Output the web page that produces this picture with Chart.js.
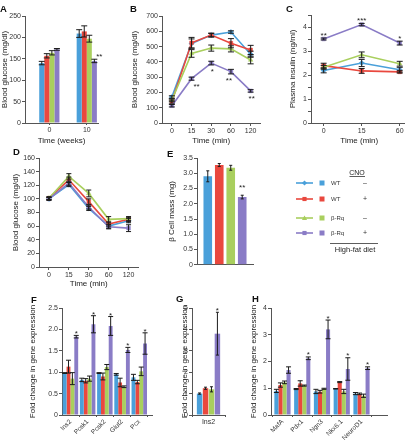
<!DOCTYPE html>
<html><head><meta charset="utf-8">
<script src="https://cdn.jsdelivr.net/npm/chart.js@4"></script>
<style>
html,body{margin:0;padding:0;background:#fff;}
body{width:405px;height:447px;position:relative;overflow:hidden;font-family:"Liberation Sans",Arial,sans-serif;}
canvas{position:absolute;}
svg{position:absolute;left:0;top:0;pointer-events:none;}
</style></head><body>
<canvas id="cA"></canvas><canvas id="cB"></canvas><canvas id="cC"></canvas>
<canvas id="cD"></canvas><canvas id="cE"></canvas>
<canvas id="cF"></canvas><canvas id="cG"></canvas><canvas id="cH"></canvas>
<svg width="405" height="447" viewBox="0 0 405 447" font-family="Liberation Sans, Arial, sans-serif">
  <g font-weight="bold" font-size="9.5" fill="#111">
    <text x="0" y="12">A</text><text x="130" y="12">B</text><text x="286" y="12">C</text>
    <text x="13" y="155">D</text><text x="167" y="157">E</text>
    <text x="31" y="303">F</text><text x="176" y="302">G</text><text x="252" y="302">H</text>
  </g>
  <g id="legend"></g>
</svg>
<script>
// ---------- data ----------
const seriesNames = ['WT', 'WT', 'β-Rq', 'β-Rq'];
const cnoSigns = ['–', '+', '–', '+'];

// A: blood glucose over weeks of high-fat diet
const aWeeks = [0, 10];
const aWTminus = [140, 209], aWTminusErr = [4, 9];
const aWTplus = [157, 214], aWTplusErr = [5, 13];
const aRqMinus = [164, 197], aRqMinusErr = [5, 8];
const aRqPlus = [172, 145], aRqPlusErr = [2, 4];
const aStars = ['', '**'];

// B: glucose tolerance
const bTime = ['0', '15', '30', '60', '120'];
const bWTminus = [170, 520, 575, 595, 450], bWTminusErr = [8, 30, 12, 8, 20];
const bWTplus = [140, 525, 575, 522, 478], bWTplusErr = [10, 35, 12, 30, 30];
const bRqMinus = [150, 455, 490, 485, 412], bRqMinusErr = [8, 25, 20, 20, 25];
const bRqPlus = [113, 290, 392, 336, 210], bRqPlusErr = [8, 10, 12, 15, 8];
const bStars = ['', '**', '*', '**', '**'];

// C: plasma insulin
const cTime = ['0', '15', '60'];
const cWTminus = [2.19, 2.5, 2.22], cWTminusErr = [0.1, 0.15, 0.1];
const cWTplus = [2.39, 2.17, 2.13], cWTplusErr = [0.1, 0.1, 0.05];
const cRqMinus = [2.32, 2.84, 2.47], cRqMinusErr = [0.08, 0.12, 0.1];
const cRqPlus = [3.5, 4.1, 3.33], cRqPlusErr = [0.04, 0.05, 0.08];
const cStars = ['**', '***', '*'];

// D: insulin tolerance
const dTime = ['0', '15', '30', '60', '120'];
const dWTminus = [100, 121, 86, 60, 68], dWTminusErr = [2, 3, 3, 3, 3];
const dWTplus = [101, 128, 96, 63, 70], dWTplusErr = [2, 4, 4, 3, 3];
const dRqMinus = [101, 133, 108, 70, 71], dRqMinusErr = [2, 4, 5, 4, 3];
const dRqPlus = [100, 123, 88, 59, 57], dRqPlusErr = [2, 3, 3, 3, 5];

// E: beta cell mass
const eCat = [''];
const eValues = [2.9, 3.27, 3.18, 2.22];
const eErrors = [0.18, 0.05, 0.08, 0.06];
const eStars = ['', '', '', '**'];

// F: gene expression
const fGenes = ['Ins2', 'Pcsk1', 'Pcsk2', 'Glut2', 'Pcx'];
const fWTminus = [0.98, 0.82, 0.98, 0.95, 0.88], fWTminusErr = [0.01, 0.04, 0.01, 0.02, 0.07];
const fWTplus = [1.13, 0.80, 0.90, 0.76, 0.77], fWTplusErr = [0.15, 0.05, 0.08, 0.1, 0.04];
const fRqMinus = [0.85, 0.85, 1.12, 0.66, 1.02], fRqMinusErr = [0.14, 0.06, 0.06, 0.02, 0.1];
const fRqPlus = [1.83, 2.12, 2.08, 1.52, 1.67], fRqPlusErr = [0.03, 0.2, 0.22, 0.06, 0.25];
const fStars = ['*', '*', '*', '*', '*'];

// G
const gGenes = ['Ins2'];
const gValues = [1.0, 1.25, 1.2, 3.8];
const gErrors = [0.03, 0.05, 0.12, 1.0];
const gStars = ['', '', '', '*'];

// H
const hGenes = ['MafA', 'Pdx1', 'Ngn3', 'Nkx6.1', 'NeuroD1'];
const hWTminus = [0.9, 0.97, 0.88, 0.98, 0.8], hWTminusErr = [0.06, 0.02, 0.08, 0.01, 0.04];
const hWTplus = [1.12, 1.18, 0.87, 1.23, 0.79], hWTplusErr = [0.08, 0.1, 0.05, 0.02, 0.03];
const hRqMinus = [1.22, 1.1, 0.98, 0.88, 0.72], hRqMinusErr = [0.05, 0.02, 0.02, 0.08, 0.06];
const hRqPlus = [1.68, 2.12, 3.2, 1.72, 1.75], hRqPlusErr = [0.12, 0.05, 0.35, 0.42, 0.05];
const hStars = ['', '*', '*', '*', '*'];

// ---------- styling ----------
const FONT = '"Liberation Sans", Arial, sans-serif';
const COLORS = ['#4aa0da', '#e9483e', '#a9cf5e', '#8a7cc6'];
const MARKERS = ['rectRot', 'rect', 'triangle', 'rect'];

const errPlugin = {
  id: 'errbars',
  afterDatasetsDraw(chart, args, opts) {
    const ctx = chart.ctx, ys = chart.scales.y;
    const cap = opts.cap ?? 2.5, fs = opts.starSize ?? 8, gap = opts.starGap ?? 4;
    ctx.save();
    chart.data.datasets.forEach((ds, di) => {
      const meta = chart.getDatasetMeta(di);
      meta.data.forEach((el, i) => {
        const d = ds.data[i];
        const v = (d !== null && typeof d === 'object') ? d.y : d;
        const e = ds.errors ? ds.errors[i] : 0;
        const x = el.x;
        const yt = ys.getPixelForValue(v + e), yb = ys.getPixelForValue(v - e);
        if (e > 0) {
          ctx.strokeStyle = opts.color || '#1b1b1b';
          ctx.lineWidth = 1;
          ctx.beginPath();
          ctx.moveTo(x, yt); ctx.lineTo(x, yb);
          ctx.moveTo(x - cap, yt); ctx.lineTo(x + cap, yt);
          ctx.moveTo(x - cap, yb); ctx.lineTo(x + cap, yb);
          ctx.stroke();
        }
        const s = ds.stars ? ds.stars[i] : '';
        if (s) {
          const dx = ds.starDx ? ds.starDx[i] : 0;
          ctx.fillStyle = '#222';
          ctx.font = fs + 'px ' + FONT;
          ctx.textAlign = 'center';
          ctx.textBaseline = 'middle';
          const yc = opts.below ? yb + gap : yt - gap;
          ctx.fillText(s, x + dx, yc + 0.22 * fs);
        }
      });
    });
    ctx.restore();
  }
};
Chart.register(errPlugin);

function setup(id, box, area, titleX) {
  const c = document.getElementById(id);
  c.width = box.w; c.height = box.h;
  c.style.left = box.x + 'px'; c.style.top = box.y + 'px';
  const padLeft = Math.max(0, titleX - 4.8 - box.x);
  return {
    canvas: c,
    padding: { left: padLeft, top: area.t - box.y, right: box.x + box.w - area.r, bottom: 0 },
    yWidth: area.l - box.x - padLeft,
    xHeight: box.y + box.h - area.b
  };
}

const axisGrid = (len, off) => ({ display: true, drawOnChartArea: false, drawTicks: len > 0, tickLength: len, color: '#555', offset: off });
const axisBorder = { display: true, color: '#555', width: 1 };
const axisTitle = (t) => ({ display: !!t, text: t, font: { family: FONT, size: 8 }, color: '#222', padding: 0 });

function yScale(L, min, max, step, title, fmt) {
  return {
    type: 'linear', position: 'left', min, max,
    afterFit: s => { s.width = L.yWidth; },
    ticks: { stepSize: step, font: { family: FONT, size: 7 }, color: '#333', padding: 1,
             callback: fmt || (v => String(v)) },
    grid: axisGrid(3, false), border: axisBorder, title: axisTitle(title)
  };
}
function xCategory(L, title, opt = {}) {
  return {
    type: 'category', position: 'bottom', offset: true,
    afterFit: s => { s.height = L.xHeight; },
    ticks: { display: opt.noLabels ? false : true, autoSkip: false, maxRotation: opt.rot || 0, minRotation: opt.rot || 0,
             font: { family: FONT, size: 7 }, color: '#333', padding: 1 },
    grid: axisGrid(opt.tick ?? 3, !!opt.gridOffset), border: axisBorder, title: axisTitle(title)
  };
}
function xLinear(L, min, max, tickVals, labels, title, opt = {}) {
  return {
    type: 'linear', position: 'bottom', min, max, offset: false,
    afterFit: s => { s.height = L.xHeight; },
    afterBuildTicks: s => { s.ticks = tickVals.map(v => ({ value: v })); },
    ticks: { autoSkip: false, maxRotation: opt.rot || 0, minRotation: opt.rot || 0,
             font: { family: FONT, size: opt.size || 7 }, color: '#333', padding: 1,
             callback: (v, i) => labels[i] ?? '' },
    grid: axisGrid(opt.tick ?? 3, !!opt.gridOffset), border: axisBorder, title: axisTitle(title)
  };
}
function baseOptions(L, scales, plug) {
  return {
    responsive: false, animation: false, devicePixelRatio: 1,
    layout: { padding: L.padding },
    plugins: { legend: { display: false }, tooltip: { enabled: false }, title: { display: false }, errbars: plug || {} },
    scales
  };
}
function lineSet(i, vals, errs, stars, starDx) {
  return { type: 'line', data: vals, borderColor: COLORS[i], backgroundColor: COLORS[i],
    borderWidth: 1.6, tension: 0, pointStyle: MARKERS[i], pointRadius: 2.6,
    pointBorderColor: COLORS[i], pointBackgroundColor: COLORS[i], pointBorderWidth: 0.5,
    errors: errs, stars: stars, starDx: starDx, order: 4 - i };
}
function barSet(i, vals, errs, stars, xs, cp, bp, starDx) {
  return { type: 'bar', data: xs ? vals.map((v, k) => ({ x: xs[k], y: v })) : vals,
    backgroundColor: COLORS[i], borderWidth: 0, categoryPercentage: cp, barPercentage: bp,
    errors: errs, stars: stars, starDx: starDx };
}

// ---------- A ----------
(function () {
  const L = setup('cA', { x: 0, y: 8, w: 112, h: 138 }, { l: 25, t: 16, r: 98, b: 123 }, 5);
  new Chart(L.canvas, {
    type: 'bar',
    data: { datasets: [
      barSet(0, aWTminus, aWTminusErr, null, aWeeks, 0.54, 1),
      barSet(1, aWTplus, aWTplusErr, null, aWeeks, 0.54, 1),
      barSet(2, aRqMinus, aRqMinusErr, null, aWeeks, 0.54, 1),
      barSet(3, aRqPlus, aRqPlusErr, aStars, aWeeks, 0.54, 1, [0, 5])
    ] },
    options: baseOptions(L, {
      x: xLinear(L, -6.5, 13, aWeeks, aWeeks.map(String), 'Time (weeks)', { tick: 2 }),
      y: yScale(L, 0, 250, 50, 'Blood glucose (mg/dl)')
    }, { cap: 3, starGap: 4 })
  });
})();

// ---------- B ----------
(function () {
  const L = setup('cB', { x: 128, y: 8, w: 137, h: 138 }, { l: 162, t: 16, r: 263, b: 123 }, 135);
  new Chart(L.canvas, {
    type: 'line',
    data: { labels: bTime, datasets: [
      lineSet(0, bWTminus, bWTminusErr),
      lineSet(1, bWTplus, bWTplusErr),
      lineSet(2, bRqMinus, bRqMinusErr),
      lineSet(3, bRqPlus, bRqPlusErr, bStars, [0, 5, 1, -2, 1])
    ] },
    options: baseOptions(L, {
      x: xCategory(L, 'Time (min)'),
      y: yScale(L, 0, 700, 100, 'Blood glucose (mg/dl)')
    }, { cap: 3, starGap: 5, below: true })
  });
})();

// ---------- C ----------
(function () {
  const L = setup('cC', { x: 288, y: 8, w: 124, h: 138 }, { l: 311, t: 15, r: 410, b: 123 }, 293);
  new Chart(L.canvas, {
    type: 'line',
    data: { datasets: [
      lineSet(0, cWTminus.map((v, k) => ({ x: k, y: v })), cWTminusErr),
      lineSet(1, cWTplus.map((v, k) => ({ x: k, y: v })), cWTplusErr),
      lineSet(2, cRqMinus.map((v, k) => ({ x: k, y: v })), cRqMinusErr),
      lineSet(3, cRqPlus.map((v, k) => ({ x: k, y: v })), cRqPlusErr, cStars)
    ] },
    options: baseOptions(L, {
      x: xLinear(L, -0.333, 2.205, cTime.map((t, k) => k), cTime, 'Time (min)'),
      y: yScale(L, 0, 4.5, 0.5, 'Plasma insulin (ng/ml)', v => Number.isInteger(v) ? String(v) : '')
    }, { cap: 3, starGap: 4 })
  });
})();

// ---------- D ----------
(function () {
  const L = setup('cD', { x: 10, y: 150, w: 133, h: 139 }, { l: 39, t: 158, r: 142, b: 267 }, 16);
  new Chart(L.canvas, {
    type: 'line',
    data: { labels: dTime, datasets: [
      lineSet(0, dWTminus, dWTminusErr),
      lineSet(1, dWTplus, dWTplusErr),
      lineSet(2, dRqMinus, dRqMinusErr),
      lineSet(3, dRqPlus, dRqPlusErr)
    ] },
    options: baseOptions(L, {
      x: xCategory(L, 'Time (min)'),
      y: yScale(L, 0, 160, 20, 'Blood glucose (mg/dl)')
    }, { cap: 2.5 })
  });
})();

// ---------- E ----------
(function () {
  const L = setup('cE', { x: 165, y: 150, w: 92, h: 120 }, { l: 197, t: 158, r: 253, b: 267 }, 172);
  new Chart(L.canvas, {
    type: 'bar',
    data: { labels: eCat, datasets: eValues.map((v, i) =>
      barSet(i, [v], [eErrors[i]], [eStars[i]], null, 0.82, 0.75)) },
    options: baseOptions(L, {
      x: xCategory(L, '', { noLabels: true, tick: 0 }),
      y: yScale(L, 0, 3.5, 0.5, 'β Cell mass (mg)', v => v === 0 ? '0' : v.toFixed(1))
    }, { cap: 1.5, starGap: 9 })
  });
})();

// ---------- F ----------
(function () {
  const L = setup('cF', { x: 28, y: 298, w: 126, h: 149 }, { l: 62, t: 308, r: 152, b: 415 }, 33);
  const xs = fGenes.map((g, k) => k);
  new Chart(L.canvas, {
    type: 'bar',
    data: { datasets: [
      barSet(0, fWTminus, fWTminusErr, null, xs, 0.9, 1),
      barSet(1, fWTplus, fWTplusErr, null, xs, 0.9, 1),
      barSet(2, fRqMinus, fRqMinusErr, null, xs, 0.9, 1),
      barSet(3, fRqPlus, fRqPlusErr, fStars, xs, 0.9, 1)
    ] },
    options: baseOptions(L, {
      x: xLinear(L, -0.49, 4.74, xs, fGenes, '', { rot: 45, size: 6.5, tick: 2, gridOffset: true }),
      y: yScale(L, 0, 2.5, 0.5, 'Fold change in gene expression', v => v === 0 ? '0' : v.toFixed(1))
    }, { cap: 2.5, starGap: 3 })
  });
})();

// ---------- G ----------
(function () {
  const L = setup('cG', { x: 180, y: 298, w: 47, h: 149 }, { l: 192, t: 308, r: 225, b: 415 }, 185);
  new Chart(L.canvas, {
    type: 'bar',
    data: { labels: gGenes, datasets: gValues.map((v, i) =>
      barSet(i, [v], [gErrors[i]], [gStars[i]], null, 0.72, 0.92)) },
    options: baseOptions(L, {
      x: xCategory(L, '', { tick: 2, gridOffset: true }),
      y: yScale(L, 0, 5, 1, 'Fold change in gene expression')
    }, { cap: 1.5, starGap: 3 })
  });
})();

// ---------- H ----------
(function () {
  const L = setup('cH', { x: 249, y: 298, w: 140, h: 149 }, { l: 271, t: 308, r: 387, b: 415 }, 254);
  const xs = hGenes.map((g, k) => k);
  new Chart(L.canvas, {
    type: 'bar',
    data: { datasets: [
      barSet(0, hWTminus, hWTminusErr, null, xs, 0.82, 1),
      barSet(1, hWTplus, hWTplusErr, null, xs, 0.82, 1),
      barSet(2, hRqMinus, hRqMinusErr, null, xs, 0.82, 1),
      barSet(3, hRqPlus, hRqPlusErr, hStars, xs, 0.82, 1)
    ] },
    options: baseOptions(L, {
      x: xLinear(L, -0.58, 5.29, xs, hGenes, '', { rot: 45, size: 6.5, tick: 2, gridOffset: true }),
      y: yScale(L, 0, 4, 1, 'Fold change in gene expression')
    }, { cap: 2.5, starGap: 3.5 })
  });
})();

// ---------- legend (SVG) ----------
(function () {
  const g = document.getElementById('legend');
  const NS = 'http://www.w3.org/2000/svg';
  const add = (tag, attrs, text) => { const e = document.createElementNS(NS, tag);
    for (const k in attrs) e.setAttribute(k, attrs[k]); if (text != null) e.textContent = text; g.appendChild(e); return e; };
  const rows = [183, 199, 218, 233];
  add('text', { x: 357, y: 174.5, 'font-size': 7, 'text-anchor': 'middle', fill: '#222' }, 'CNO');
  add('line', { x1: 349.5, y1: 176.5, x2: 365, y2: 176.5, stroke: '#333', 'stroke-width': 0.8 });
  rows.forEach((y, i) => {
    const c = COLORS[i];
    add('line', { x1: 296, y1: y, x2: 313, y2: y, stroke: c, 'stroke-width': 1.6 });
    const mx = 304.5, r = 2.6;
    if (MARKERS[i] === 'rectRot') add('polygon', { points: `${mx},${y - r} ${mx + r},${y} ${mx},${y + r} ${mx - r},${y}`, fill: c });
    else if (MARKERS[i] === 'triangle') add('polygon', { points: `${mx},${y - r} ${mx + r},${y + r * 0.8} ${mx - r},${y + r * 0.8}`, fill: c });
    else add('rect', { x: mx - r * 0.8, y: y - r * 0.8, width: r * 1.6, height: r * 1.6, fill: c });
    add('rect', { x: 319.5, y: y - 2.5, width: 5, height: 5, fill: c });
    add('text', { x: 331, y: y + 2.2, 'font-size': 6, fill: '#333' }, seriesNames[i]);
    add('text', { x: 365, y: y + 2.3, 'font-size': 7, 'text-anchor': 'middle', fill: '#333' }, cnoSigns[i]);
  });
  add('line', { x1: 330, y1: 243.5, x2: 378, y2: 243.5, stroke: '#333', 'stroke-width': 0.8 });
  add('text', { x: 355, y: 252, 'font-size': 7.5, 'text-anchor': 'middle', fill: '#222' }, 'High-fat diet');
})();
</script>
</body></html>
